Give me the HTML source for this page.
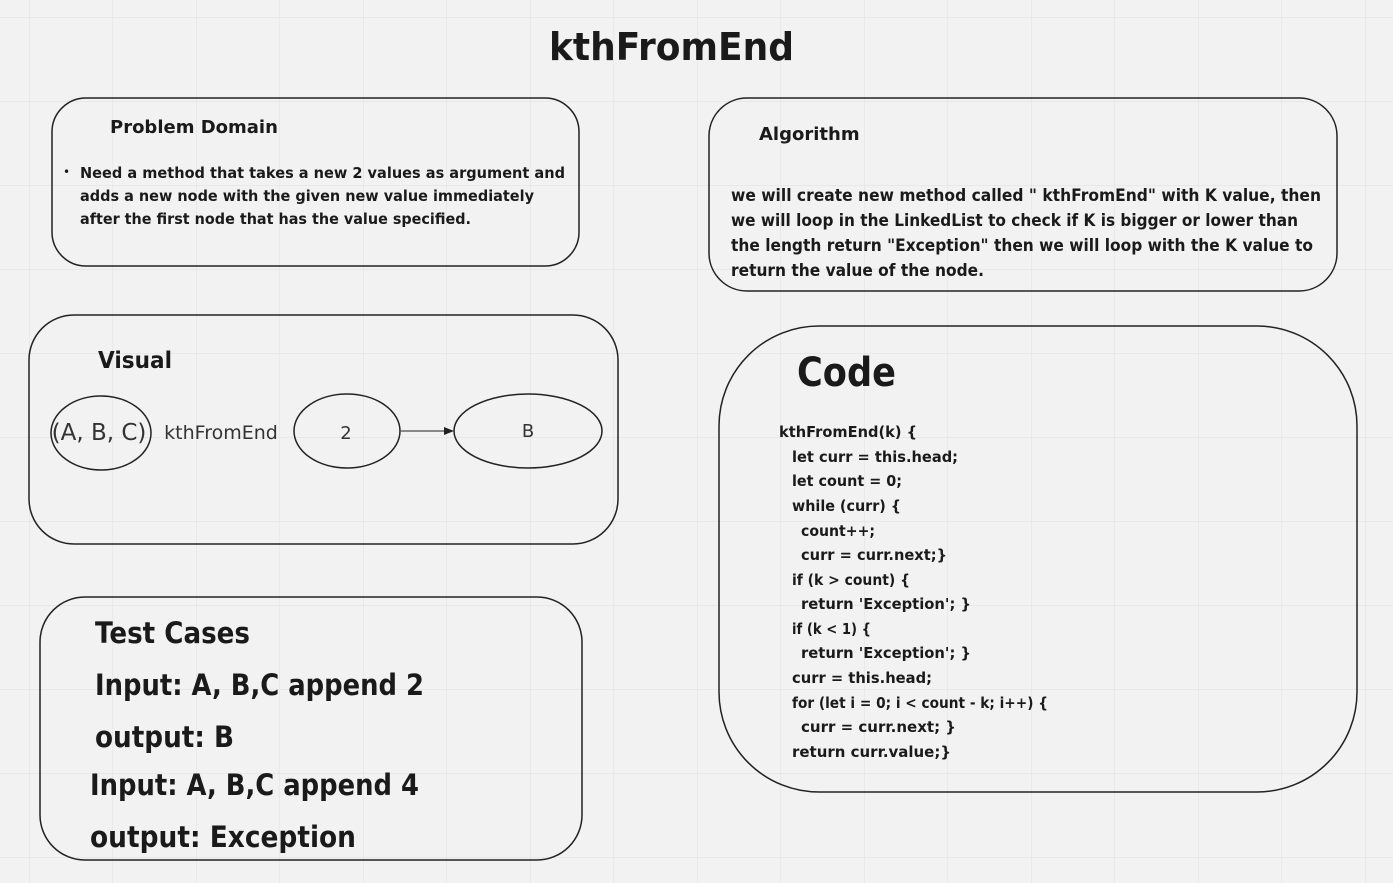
<!DOCTYPE html>
<html><head><meta charset="utf-8"><style>
body{margin:0;background:#f2f2f2;}
svg{display:block;font-family:"DejaVu Sans","Liberation Sans",sans-serif;}
</style></head><body>
<svg width="1393" height="883" viewBox="0 0 1393 883" xmlns="http://www.w3.org/2000/svg">
<defs>
<pattern id="g" x="29" y="17" width="83.5" height="84" patternUnits="userSpaceOnUse">
<path d="M0 0V84M0 0H83.5" stroke="#e2e2e2" stroke-width="1.2" fill="none"/>
</pattern>
<marker id="a" markerWidth="10" markerHeight="8" refX="9" refY="4" orient="auto"><path d="M0 0L10 4L0 8z" fill="#222"/></marker>
</defs>
<rect width="1393" height="883" fill="#f2f2f2"/>
<rect width="1393" height="883" fill="url(#g)"/>
<g fill="none" stroke="#222" stroke-width="1.5">
<rect x="52" y="98" width="527" height="168" rx="34"/>
<rect x="709" y="98" width="628" height="193" rx="38"/>
<rect x="29" y="315" width="589" height="229" rx="45"/>
<rect x="719" y="326" width="638" height="466" rx="100"/>
<rect x="40" y="597" width="542" height="263" rx="45"/>
<ellipse cx="101" cy="433" rx="50" ry="37"/>
<ellipse cx="347" cy="431" rx="53" ry="37"/>
<ellipse cx="528" cy="431" rx="74" ry="37"/>
<line x1="401" y1="431" x2="453" y2="431" stroke-width="1" marker-end="url(#a)"/>
</g>
<g fill="#1a1a1a" font-weight="bold" lengthAdjust="spacingAndGlyphs">
<text x="549" y="60" font-size="38" textLength="245" lengthAdjust="spacingAndGlyphs">kthFromEnd</text>
<text x="110" y="133" font-size="18">Problem Domain</text>
<text x="63" y="176" font-size="12" font-weight="normal">•</text>
<g font-size="15.5"><text x="80" y="178" textLength="485" lengthAdjust="spacingAndGlyphs">Need a method that takes a new 2 values as argument  and</text>
<text x="80" y="201" textLength="454" lengthAdjust="spacingAndGlyphs">adds a new node with the given new value immediately</text>
<text x="80" y="224" textLength="391" lengthAdjust="spacingAndGlyphs">after the first node that has the value specified.</text></g>
<text x="759" y="140" font-size="18">Algorithm</text>
<g font-size="16.5"><text x="731" y="201" textLength="590" lengthAdjust="spacingAndGlyphs">we will create new method called " kthFromEnd" with K value, then</text>
<text x="731" y="226" textLength="567" lengthAdjust="spacingAndGlyphs">we will loop in the LinkedList to check if K is bigger or lower than</text>
<text x="731" y="251" textLength="582" lengthAdjust="spacingAndGlyphs">the length return "Exception" then we will loop with the K value to</text>
<text x="731" y="276" textLength="253" lengthAdjust="spacingAndGlyphs">return the value of the node.</text></g>
<text x="98" y="368" font-size="23" textLength="74" lengthAdjust="spacingAndGlyphs">Visual</text>
<text x="797" y="386" font-size="40" textLength="99" lengthAdjust="spacingAndGlyphs">Code</text>
<g font-size="15.5">
<text x="779" y="437" textLength="138" lengthAdjust="spacingAndGlyphs">kthFromEnd(k) {</text>
<text x="792" y="462" textLength="166" lengthAdjust="spacingAndGlyphs">let curr = this.head;</text>
<text x="792" y="486" textLength="110" lengthAdjust="spacingAndGlyphs">let count = 0;</text>
<text x="792" y="511" textLength="109" lengthAdjust="spacingAndGlyphs">while (curr) {</text>
<text x="801" y="536" textLength="74" lengthAdjust="spacingAndGlyphs">count++;</text>
<text x="801" y="560" textLength="146" lengthAdjust="spacingAndGlyphs">curr = curr.next;}</text>
<text x="792" y="585" textLength="118" lengthAdjust="spacingAndGlyphs">if (k &gt; count) {</text>
<text x="801" y="609" textLength="170" lengthAdjust="spacingAndGlyphs">return 'Exception'; }</text>
<text x="792" y="634" textLength="79" lengthAdjust="spacingAndGlyphs">if (k &lt; 1) {</text>
<text x="801" y="658" textLength="170" lengthAdjust="spacingAndGlyphs">return 'Exception'; }</text>
<text x="792" y="683" textLength="140" lengthAdjust="spacingAndGlyphs">curr = this.head;</text>
<text x="792" y="708" textLength="256" lengthAdjust="spacingAndGlyphs">for (let i = 0; i &lt; count - k; i++) {</text>
<text x="801" y="732" textLength="155" lengthAdjust="spacingAndGlyphs">curr = curr.next;  }</text>
<text x="792" y="757" textLength="159" lengthAdjust="spacingAndGlyphs">return curr.value;}</text>
</g>
<g font-size="29">
<text x="95" y="643" textLength="155" lengthAdjust="spacingAndGlyphs">Test Cases</text>
<text x="95" y="695" textLength="329" lengthAdjust="spacingAndGlyphs">Input: A, B,C append 2</text>
<text x="95" y="747" textLength="139" lengthAdjust="spacingAndGlyphs">output: B</text>
<text x="90" y="795" textLength="329" lengthAdjust="spacingAndGlyphs">Input: A, B,C append 4</text>
<text x="90" y="847" textLength="266" lengthAdjust="spacingAndGlyphs">output: Exception</text>
</g>
</g>
<g fill="#333">
<text x="99" y="440" font-size="23" text-anchor="middle">(A, B, C)</text>
<text x="221" y="439" font-size="19" text-anchor="middle">kthFromEnd</text>
<text x="346" y="439" font-size="18" text-anchor="middle">2</text>
<text x="528" y="437" font-size="18" text-anchor="middle">B</text>
</g>
</svg>
</body></html>
